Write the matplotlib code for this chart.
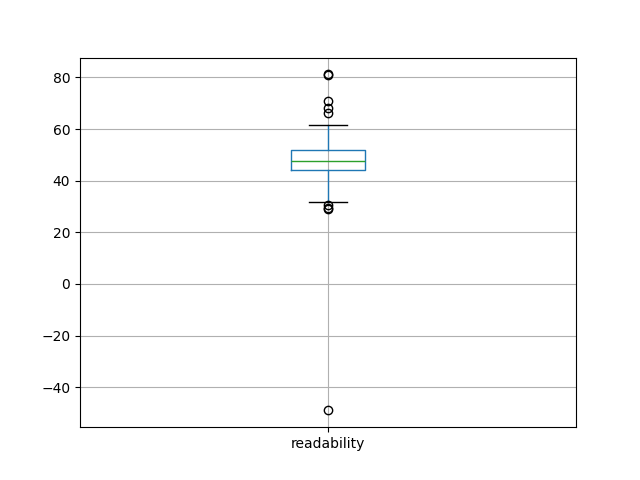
import matplotlib
matplotlib.use("Agg")
import matplotlib.pyplot as plt

label = "readability"
q1 = 44.0
median = 47.8
q3 = 52.0
whisker_low = 31.8
whisker_high = 61.7
fliers = [81.0, 81.2, 71.0, 68.3, 66.2, 30.6, 29.6, 29.0, -49.0]

stats = [{
    "label": label,
    "q1": q1,
    "med": median,
    "q3": q3,
    "whislo": whisker_low,
    "whishi": whisker_high,
    "fliers": fliers,
}]

fig, ax = plt.subplots(figsize=(6.4, 4.8), dpi=100)
ax.bxp(stats,
       boxprops=dict(color="C0"),
       whiskerprops=dict(color="C0"),
       medianprops=dict(color="C2"),
       capprops=dict(color="k"),
       flierprops=dict(marker="o", markeredgecolor="k"))
ax.grid(True)
plt.savefig("out.png")
